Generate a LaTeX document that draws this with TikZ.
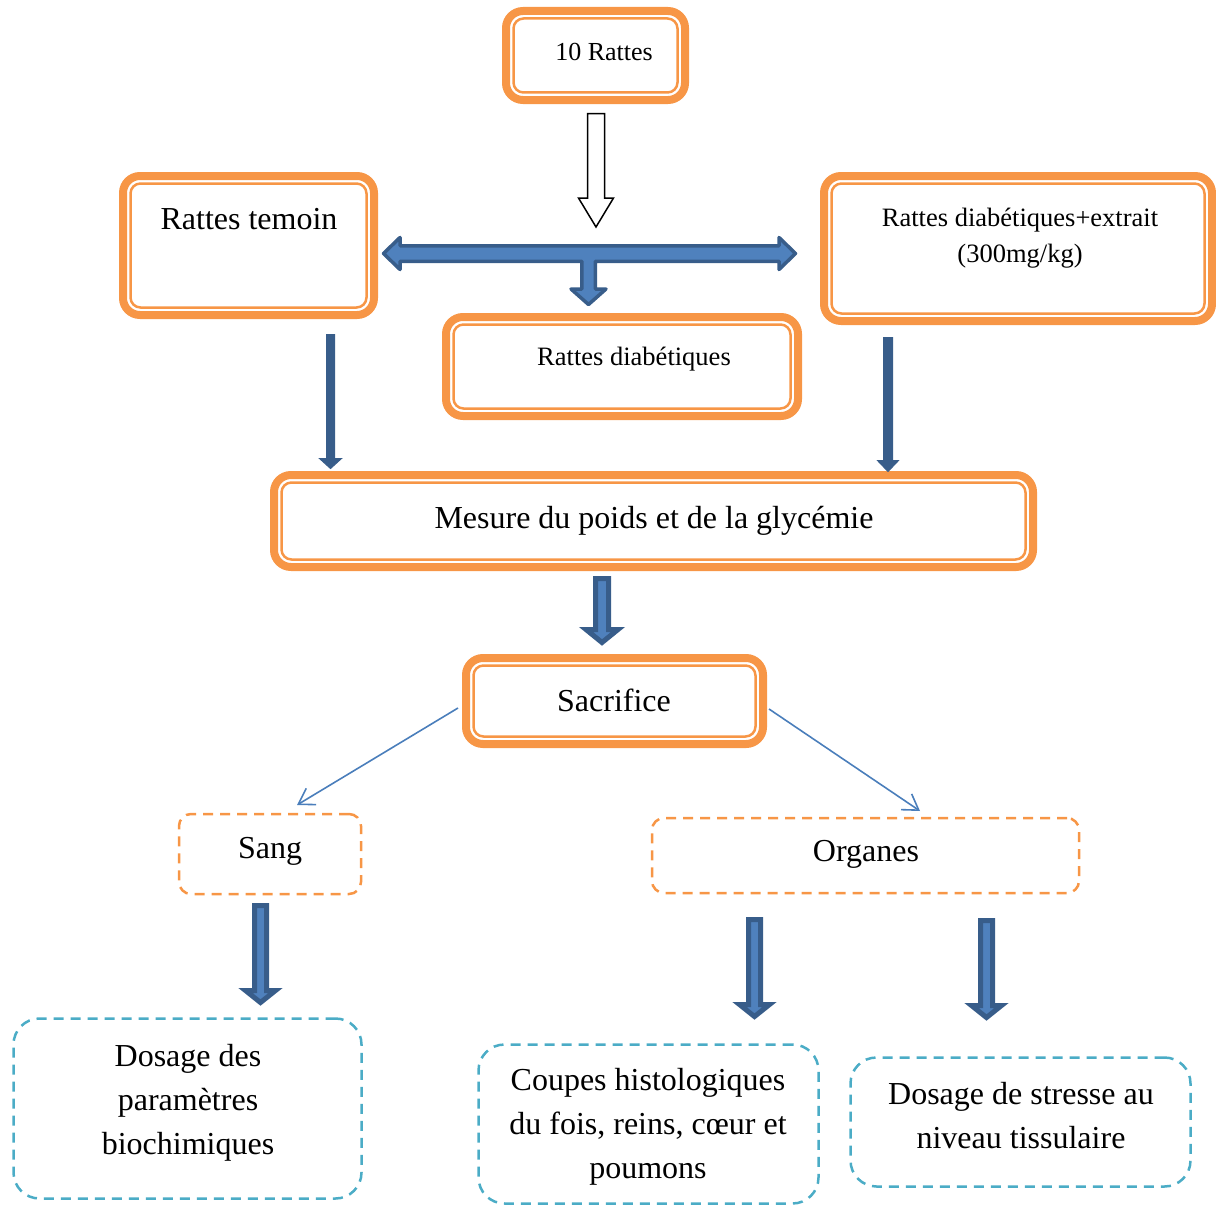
\documentclass[tikz,border=0pt]{standalone}
\usepackage{fontspec}
\setmainfont{Liberation Serif}
\usetikzlibrary{calc,arrows.meta}

\definecolor{ora}{HTML}{F79646}
\definecolor{cya}{HTML}{4BACC6}
\definecolor{bfill}{HTML}{4F81BD}
\definecolor{bline}{HTML}{385D8A}
\definecolor{lnk}{HTML}{4A7EBB}

% downward block arrow: #1 style, #2 top of shaft, #3 tip,
% #4 shaft half width, #5 head half width, #6 head length
\newcommand{\blockdown}[6]{%
  \draw[#1] let \p1=(#2), \p2=(#3) in
    (\x1-#4,\y1) -- (\x1+#4,\y1) -- (\x1+#4,\y2+#6) -- (\x1+#5,\y2+#6)
    -- (\x2,\y2) -- (\x1-#5,\y2+#6) -- (\x1-#4,\y2+#6) -- cycle;}

\begin{document}
\begin{tikzpicture}[x=1pt,y=-1pt,
  obox/.style={draw=ora, line width=8pt, rounded corners=17pt, inner sep=0pt, outer sep=0pt},
  ibox/.style={draw=ora, line width=2.5pt, rounded corners=10pt},
  dbox/.style={draw=ora, line width=2.5pt, dash pattern=on 10pt off 7pt, rounded corners=12pt, inner sep=0pt, outer sep=0pt},
  cbox/.style={draw=cya, line width=2.5pt, dash pattern=on 10pt off 7pt, rounded corners=26pt, inner sep=0pt, outer sep=0pt},
  lbl/.style={font=\fontsize{32}{44}\selectfont, align=center, inner sep=0pt},
  slbl/.style={font=\fontsize{26.5}{36}\selectfont, align=center, inner sep=0pt},
  blk/.style={fill=bfill, draw=bline, line width=5pt},
  thinblk/.style={fill=bline, draw=bline, line width=1pt},
  tee/.style={fill=bfill, draw=bline, line width=3.5pt, line join=round},
  hollow/.style={fill=white, draw=black, line width=1.5pt},
  link/.style={draw=lnk, line width=1.6pt, -{Straight Barb[length=15pt,width=19pt]}}
]
\useasboundingbox (0,0) rectangle (1216,1207);

% double-bordered orange boxes
\node[obox, minimum width=179pt, minimum height=89pt]  (top) at (595.5,55.5) {};
\node[obox, minimum width=251pt, minimum height=139pt] (tem) at (248.5,245.5) {};
\node[obox, minimum width=388pt, minimum height=145pt] (ext) at (1018,248.5) {};
\node[obox, minimum width=352pt, minimum height=99pt]  (dia) at (622,366.5) {};
\node[obox, minimum width=759pt, minimum height=92pt]  (mes) at (653.5,521) {};
\node[obox, minimum width=297pt, minimum height=86pt]  (sac) at (614.5,701) {};
\foreach \n in {top,tem,ext,dia,mes,sac}
  \draw[ibox] ([shift={(7.5pt,-7.5pt)}]\n.north west) rectangle ([shift={(-7.5pt,7.5pt)}]\n.south east);

% dashed boxes
\node[dbox, minimum width=182pt, minimum height=80pt]  (sang) at (270,854) {};
\node[dbox, minimum width=427pt, minimum height=75pt]  (org)  at (865.5,855.5) {};
\node[cbox, minimum width=348pt, minimum height=180pt] (dos)  at (187.5,1108.5) {};
\node[cbox, minimum width=340pt, minimum height=159pt] (cou)  at (648.5,1124) {};
\node[cbox, minimum width=340pt, minimum height=129pt] (str)  at (1020.5,1122) {};

% texts
\node[slbl, font=\fontsize{26}{32}\selectfont] (topt) at (604,52) {10 Rattes};
\node[lbl]  (temt) at (249,219) {Rattes temoin};
\node[slbl] (extt) at (1020,238) {Rattes diabétiques+extrait\\(300mg/kg)};
\node[slbl] (diat) at (634,359) {Rattes diabétiques};
\node[lbl]  (mest) at (654,521) {Mesure du poids et de la glycémie};
\node[lbl]  (sact) at (614,700) {Sacrifice};
\node[lbl]  (sangt) at (270,851) {Sang};
\node[lbl]  (orgt) at (866,854) {Organes};
\node[lbl]  (dost) at (188,1103) {Dosage des\\paramètres\\biochimiques};
\node[lbl]  (cout) at (648,1127) {Coupes histologiques\\du fois, reins, cœur et\\poumons};
\node[lbl]  (strt) at (1021,1116) {Dosage de stresse au\\niveau tissulaire};

% hollow arrow below the first box
\draw[hollow] (587.5,113.5) -- (604.5,113.5) -- (604.5,198) -- (613.5,198) -- (596,227)
  -- (578.5,198) -- (587.5,198) -- cycle;

% three-way block arrow
\draw[tee] (383.5,253.5) -- (400,237.5) -- (400,245.75) -- (779,245.75) -- (779,237.5)
  -- (795.5,253.5) -- (779,269.5) -- (779,261.25) -- (595.25,261.25) -- (595.25,289)
  -- (606,289) -- (588.5,304.5) -- (571,289) -- (581.75,289) -- (581.75,261.25)
  -- (400,261.25) -- (400,269.5) -- cycle;

% arrow end points
\coordinate (e1s) at (330.5,334.5);  \coordinate (e1t) at (330.5,468.5);
\coordinate (e2s) at (888,337.5);    \coordinate (e2t) at (888,471.5);
\coordinate (a1s) at (602,578.5);    \coordinate (a1t) at (602,642.5);
\coordinate (a2s) at (260.5,905.5);  \coordinate (a2t) at (260.5,1002.5);
\coordinate (a3s) at (754.5,919.5);  \coordinate (a3t) at (754.5,1016.5);
\coordinate (a4s) at (986.5,920.5);  \coordinate (a4t) at (986.5,1017.5);

\blockdown{thinblk}{e1s}{e1t}{4pt}{11pt}{10pt}
\blockdown{thinblk}{e2s}{e2t}{4.5pt}{10.5pt}{11pt}
\blockdown{blk}{a1s}{a1t}{6.5pt}{16pt}{13pt}
\blockdown{blk}{a2s}{a2t}{6pt}{15pt}{12pt}
\blockdown{blk}{a3s}{a3t}{6pt}{15pt}{12pt}
\blockdown{blk}{a4s}{a4t}{6pt}{15pt}{12pt}

% thin connectors from the sacrifice box
\draw[link] ([xshift=-8pt,yshift=-7pt]sac.west) -- ([xshift=27pt,yshift=9pt]sang.north);
\draw[link] ([xshift=6pt,yshift=-8pt]sac.east) -- ([xshift=54.5pt,yshift=7pt]org.north);
\end{tikzpicture}
\end{document}
